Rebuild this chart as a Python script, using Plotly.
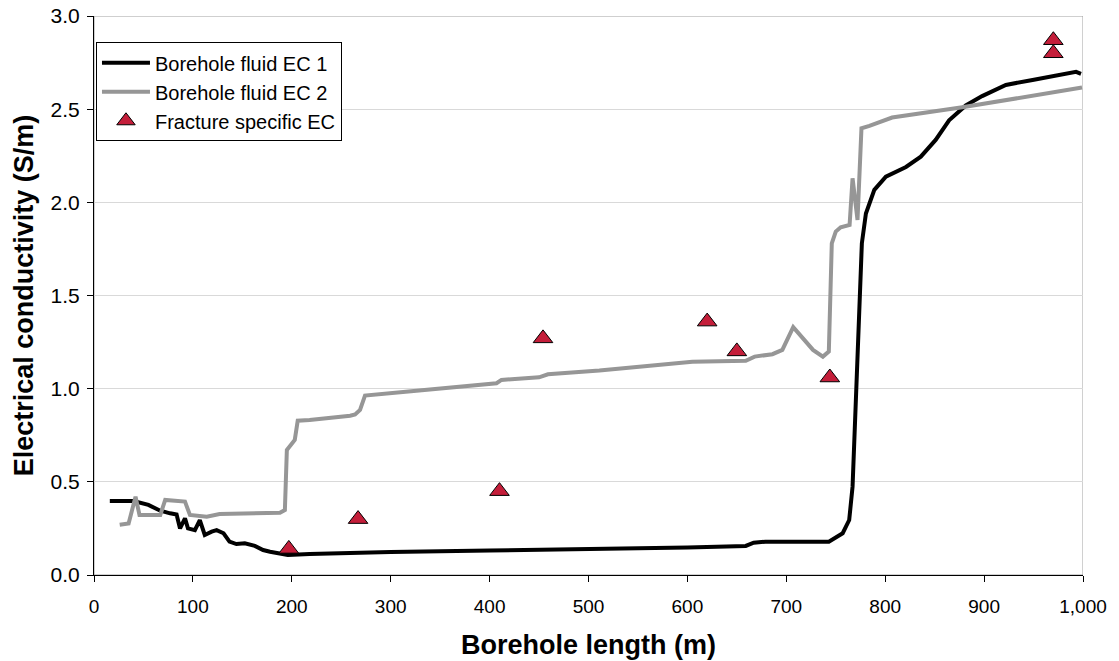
import plotly.graph_objects as go

# Borehole fluid EC logs (length in m, conductivity in S/m)
ec1_length = [16, 40, 55, 67, 77, 83.5, 87, 92, 95, 102, 107, 112, 119, 124, 131, 137, 144,
              152.5, 162.6, 171, 178, 188, 196, 218, 259, 300, 400, 511, 600, 659, 667, 679,
              743, 757, 763.6, 767, 770.4, 773.7, 776.4, 780.5, 789, 800.7, 821, 836, 851,
              864.6, 881.5, 898, 922, 949, 993, 998]
ec1_value = [0.397, 0.397, 0.376, 0.345, 0.331, 0.325, 0.25, 0.304, 0.25, 0.241, 0.295, 0.215,
             0.233, 0.241, 0.224, 0.179, 0.166, 0.170, 0.156, 0.134, 0.125, 0.113, 0.107, 0.113,
             0.12, 0.124, 0.131, 0.138, 0.148, 0.156, 0.173, 0.179, 0.179, 0.224, 0.295, 0.474,
             0.92, 1.42, 1.78, 1.94, 2.067, 2.138, 2.19, 2.245, 2.335, 2.44, 2.52, 2.57, 2.63,
             2.657, 2.70, 2.69]

ec2_length = [26, 35, 42, 46, 67, 72, 92, 97, 114, 127, 188, 193, 195, 199, 203, 206, 218, 259,
              264, 269, 274, 326, 407, 412, 450, 459, 511, 605, 659, 668, 686, 696, 707, 727,
              737, 743, 746, 750, 755, 764, 767, 772, 776, 784, 807, 878, 999]
ec2_value = [0.27, 0.277, 0.42, 0.322, 0.322, 0.403, 0.394, 0.322, 0.313, 0.327, 0.334, 0.349,
             0.671, 0.698, 0.725, 0.828, 0.832, 0.855, 0.862, 0.886, 0.963, 0.989, 1.029, 1.047,
             1.061, 1.077, 1.097, 1.145, 1.150, 1.172, 1.185, 1.208, 1.33, 1.208, 1.172, 1.199,
             1.78, 1.843, 1.866, 1.879, 2.129, 1.905, 2.397, 2.41, 2.455, 2.51, 2.616]

# Fracture specific EC
frac_length = [197, 267, 410, 454, 620, 650, 744, 970, 970]
frac_value = [0.14, 0.30, 0.45, 1.27, 1.36, 1.20, 1.06, 2.87, 2.80]

x_ticks = [0, 100, 200, 300, 400, 500, 600, 700, 800, 900, 1000]
x_tick_text = ["0", "100", "200", "300", "400", "500", "600", "700", "800", "900", "1,000"]
y_ticks = [0.0, 0.5, 1.0, 1.5, 2.0, 2.5, 3.0]

FONT = "Liberation Sans, Arial, sans-serif"

fig = go.Figure()
fig.add_trace(go.Scatter(x=ec1_length, y=ec1_value, mode="lines", name="Borehole fluid EC 1",
                         line=dict(color="#000000", width=4)))
fig.add_trace(go.Scatter(x=ec2_length, y=ec2_value, mode="lines", name="Borehole fluid EC 2",
                         line=dict(color="#969696", width=4)))
fig.add_trace(go.Scatter(x=frac_length, y=frac_value, mode="markers", name="Fracture specific EC",
                         marker=dict(symbol="triangle-up", size=17, color="#C41E3A",
                                     line=dict(color="#000000", width=1))))

# plot-area frame (grey), axis lines drawn on top in black
fig.add_shape(type="rect", xref="x", yref="y", x0=0, x1=1000, y0=0, y1=3,
              line=dict(color="#a0a0a0", width=1), layer="below")

fig.update_layout(
    width=1119, height=661,
    margin=dict(l=94, r=36, t=16, b=86),
    paper_bgcolor="white", plot_bgcolor="white",
    font=dict(family=FONT, size=20, color="#000000"),
    showlegend=True,
    legend=dict(x=0.002, y=0.953, xanchor="left", yanchor="top",
                bgcolor="white", bordercolor="#000000", borderwidth=1,
                font=dict(family=FONT, size=20), tracegroupgap=0,
                itemwidth=48),
    xaxis=dict(range=[0, 1000], tickvals=x_ticks, ticktext=x_tick_text,
               automargin=False,
               showgrid=False, zeroline=False, showline=True, linecolor="#000000",
               linewidth=1, ticks="outside", ticklen=6, tickcolor="#000000",
               ticklabelstandoff=8,
               tickfont=dict(family=FONT, size=19),
               title=dict(text="<b>Borehole length (m)</b>", standoff=19,
                          font=dict(family=FONT, size=27))),
    yaxis=dict(range=[0, 3], tickvals=y_ticks, tickformat=".1f",
               automargin=False,
               showgrid=True, gridcolor="#d9d9d9", gridwidth=1, zeroline=False,
               showline=True, linecolor="#000000", linewidth=1, ticks="outside",
               ticklen=6, tickcolor="#000000", tickfont=dict(family=FONT, size=21),
               ticklabelstandoff=3,
               title=dict(text="<b>Electrical conductivity (S/m)</b>", standoff=9,
                          font=dict(family=FONT, size=27))),
)

fig.write_html("out.html")
